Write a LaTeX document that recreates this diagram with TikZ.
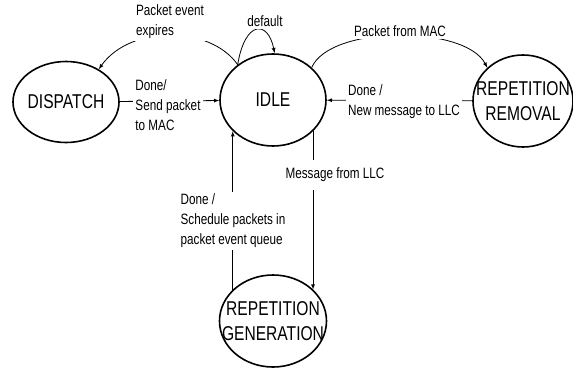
\documentclass[tikz,border=0pt]{standalone}
\usepackage{fontspec}
\setmainfont{Liberation Sans}[FakeStretch=0.78]
\usetikzlibrary{shapes,arrows,positioning}
\tikzset{state/.style={draw,ellipse,line width=1.6pt,inner sep=0pt}}
\tikzset{statename/.style={font=\fontsize{20}{25}\selectfont,align=center}}
\tikzset{conn/.style={-latex,line width=0.8pt}}
\tikzset{msg/.style={fill=white,align=left,inner sep=2pt,font=\fontsize{15}{20}\selectfont}}

\begin{document}
\begin{tikzpicture}[x=1pt,y=1pt]
	\useasboundingbox (0,0) rectangle (573,368);

	%% States
	\node[state,minimum width=106pt,minimum height=81pt,label={[statename]center:DISPATCH}] (dispatch) at (66,266) {};
	\node[state,minimum width=106pt,minimum height=92pt,label={[statename]center:IDLE}] (idle) at (273,268) {};
	\node[state,minimum width=100pt,minimum height=92pt,label={[statename]center:REPETITION\\REMOVAL}] (removal) at (523,267) {};
	\node[state,minimum width=107pt,minimum height=92pt,label={[statename]center:REPETITION\\GENERATION}] (generation) at (273,47) {};

	%% Transitions
	\draw[conn] (idle.135) .. controls (210,343) and (130,343) .. (dispatch.45);
	\draw[conn] (idle.135) .. controls (245,348) and (268,348) .. (idle.88);
	\draw[conn] (dispatch) -- (idle);
	\draw[conn] (idle.40) .. controls (330,343) and (465,343) .. (removal.137);
	\draw[conn] (removal) -- (idle);
	\draw[conn] (idle.-38) -- (idle.-38 |- generation.38);
	\draw[conn] (generation.142) -- (generation.142 |- idle.-142);

	% Labels
	\node[msg] (expires) at (170,346) {Packet event\\expires};
	\node[msg] (default) at (265,347) {default};
	\node[msg] (sendmac) at (168,263) {Done/\\Send packet\\to MAC};
	\node[msg] (frommac) at (400,337) {Packet from MAC};
	\node[msg] (tollc) at (404,266) {Done /\\New message to LLC};
	\node[msg,inner ysep=8pt] (fromllc) at (335,193) {Message from LLC};
	\node[msg] (schedule) at (233,147) {Done /\\Schedule packets in\\packet event queue};
\end{tikzpicture}
\end{document}
